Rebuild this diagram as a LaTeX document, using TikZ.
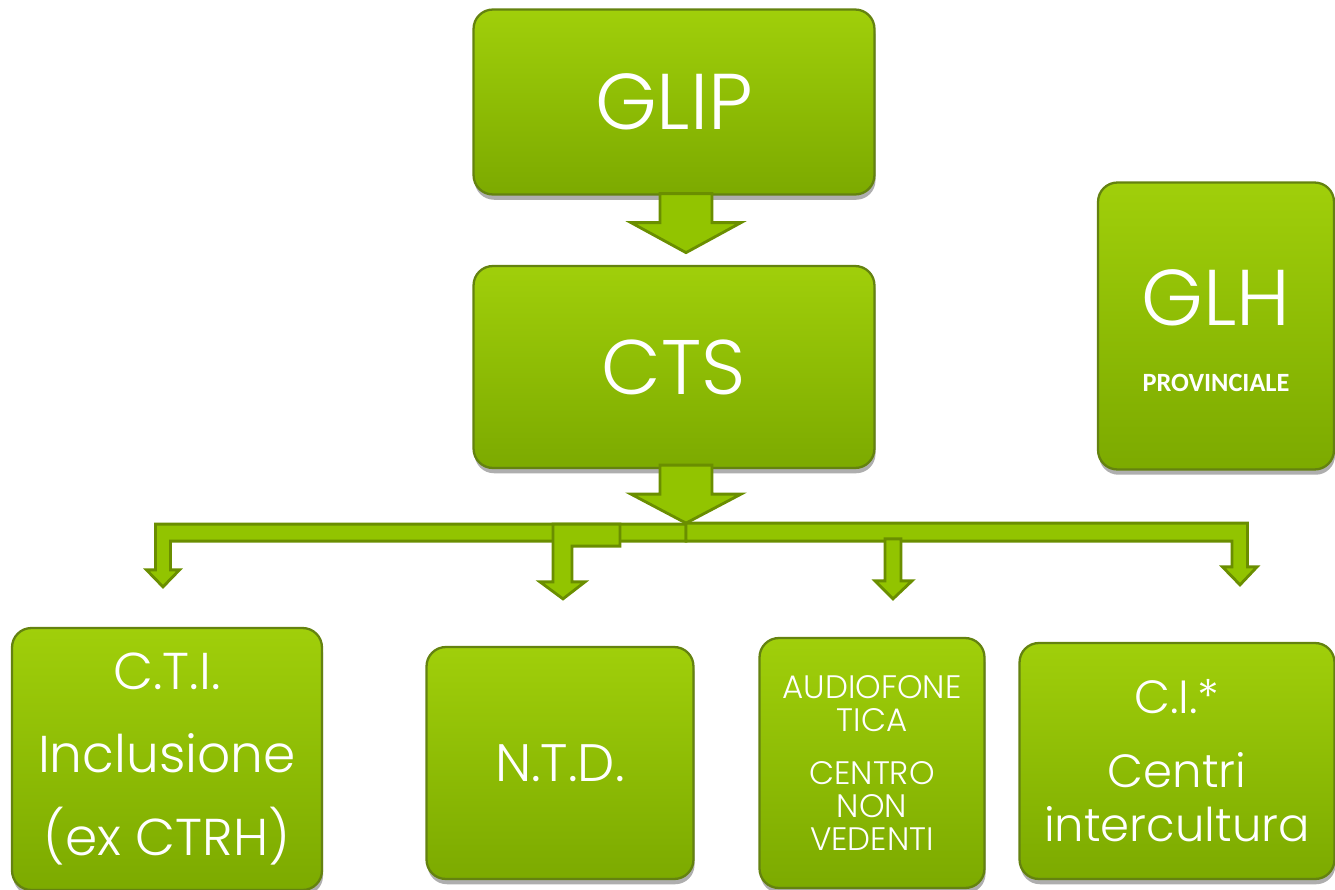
\documentclass[tikz,border=0pt]{standalone}
\usepackage{fontspec}
\setmainfont{Poppins}[UprightFont={* Light}]
\newfontfamily\tagfont{Carlito}
\usetikzlibrary{calc,shadows}
\definecolor{boxtop}{RGB}{160,207,10}
\definecolor{boxbot}{RGB}{124,170,0}
\definecolor{boxedge}{RGB}{100,130,16}
\definecolor{arrowfill}{RGB}{146,196,0}
\definecolor{arrowedge}{RGB}{106,142,0}
\tikzset{>=stealth,
  box/.style={draw=boxedge, line width=1.3pt, top color=boxtop, bottom color=boxbot,
    rounded corners=11pt, text=white, align=center, inner sep=0pt,
    drop shadow={shadow xshift=0.6pt, shadow yshift=-3pt, opacity=.45, fill=black!70}},
  blockarrow/.style={fill=arrowfill, draw=arrowedge, line width=1.6pt, line join=miter}}

\begin{document}
\begin{tikzpicture}[x=0.02cm,y=-0.02cm]
\useasboundingbox (0,0) rectangle (1335,889);
\clip (0,0) rectangle (1335,889);
% top of the chart
\node[box, minimum width=8.02cm, minimum height=3.7cm, font=\fontsize{45}{50}\selectfont] (glip) at (674,102) {GLIP};
\node[box, minimum width=8.02cm, minimum height=4.04cm, font=\fontsize{44}{50}\selectfont] (cts) at (674,367) {CTS};
\node[box, minimum width=4.72cm, minimum height=5.74cm, font=\fontsize{45}{38}\selectfont] (glh) at (1216,326)
  {\rule{0pt}{37pt}GLH\\{\tagfont\bfseries\fontsize{15}{38}\selectfont PROVINCIALE}};
% bottom row
\node[box, minimum width=6.2cm, minimum height=5.24cm, font=\fontsize{29.5}{47}\selectfont] (cti) at (167,759)
  {C.T.I.\\Inclusione\\(ex CTRH)};
\node[box, minimum width=5.34cm, minimum height=4.64cm, font=\fontsize{30}{35}\selectfont] (ntd) at (560,763) {N.T.D.};
\node[box, minimum width=4.5cm, minimum height=5cm, font=\fontsize{18.5}{19}\selectfont] (audio) at (872,763)
  {AUDIOFONE\\TICA\\[11pt]CENTRO\\NON\\VEDENTI};
\node[box, minimum width=6.3cm, minimum height=4.72cm, font=\fontsize{26.5}{31}\selectfont] (ci) at (1177,761)
  {C.I.*\\[11pt]Centri\\intercultura};

% GLIP -> CTS
\draw[blockarrow] ($(glip.south)+(-14,-2)$) -- ++(0,29) -- ++(-29,0) -- ++(55,30) -- ++(55,-30) -- ++(-29,0) -- ++(0,-29) -- cycle;
% CTS -> branches
\draw[blockarrow] ($(cts.south)+(-14,-4)$) -- ++(0,29) -- ++(-29,0) -- ++(55,29) -- ++(55,-29) -- ++(-29,0) -- ++(0,-29) -- cycle;
\coordinate (hub) at ($(cts.south)+(12,54)$);
\coordinate (tcti) at ($(cti.north)+(-4,-40)$);
\coordinate (tntd) at ($(ntd.north)+(3,-47)$);
\coordinate (taudio) at ($(audio.north)+(21,-38)$);
\coordinate (tci) at ($(ci.north)+(63,-57)$);
\coordinate (ntdjoin) at ($(hub)+(-66,1)$);
\draw[blockarrow] ($(hub)+(0,1)$) -| ($(tcti)+(-7.5,-17)$) -- ++(-9,0) -- (tcti) -- ++(16.5,-17) -- ++(-9,0) |- ($(hub)+(0,18)$) -- cycle;
\draw[blockarrow] (ntdjoin) -| ($(tntd)+(-10,-17)$) -- ++(-13,0) -- (tntd) -- ++(22,-17) -- ++(-13,0) |- ($(ntdjoin)+(0,22)$) -- cycle;
\draw[blockarrow] (hub) -| ($(tci)+(7.5,-18)$) -- ++(9.5,0) -- (tci) -- ++(-17.5,-18) -- ++(9.5,0) |- ($(hub)+(0,18)$) -- cycle;
\draw[blockarrow] ($(taudio)+(-8,-60)$) -- ++(0,42) -- ++(-10,0) -- (taudio) -- ++(19,-18) -- ++(-11,0) -- ++(0,-42) -- cycle;
\end{tikzpicture}
\end{document}
